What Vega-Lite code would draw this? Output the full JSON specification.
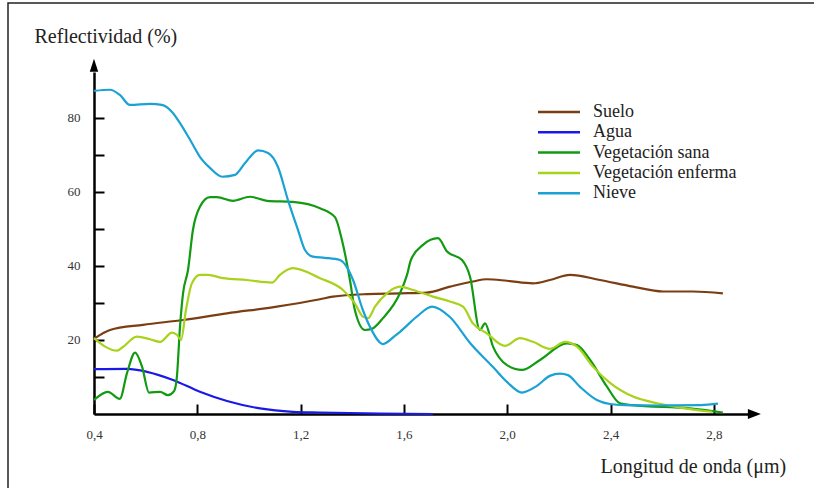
{
  "$schema": "https://vega.github.io/schema/vega-lite/v6.json",
  "width": 816,
  "height": 500,
  "autosize": {"type": "none"},
  "padding": {"left": 8, "top": 3, "right": -10, "bottom": -15},
  "background": "white",
  "config": {
    "font": "Liberation Serif",
    "view": {"stroke": "#222", "strokeWidth": 1.5}
  },
  "datasets": {
    "curves": [
      {"serie": "Suelo", "x": 0.40, "y": 20.3},
      {"serie": "Suelo", "x": 0.462, "y": 22.7},
      {"serie": "Suelo", "x": 0.59, "y": 24.1},
      {"serie": "Suelo", "x": 0.745, "y": 25.4},
      {"serie": "Suelo", "x": 0.915, "y": 27.2},
      {"serie": "Suelo", "x": 1.108, "y": 29.0},
      {"serie": "Suelo", "x": 1.275, "y": 31.0},
      {"serie": "Suelo", "x": 1.325, "y": 31.7},
      {"serie": "Suelo", "x": 1.457, "y": 32.4},
      {"serie": "Suelo", "x": 1.585, "y": 32.6},
      {"serie": "Suelo", "x": 1.689, "y": 32.8},
      {"serie": "Suelo", "x": 1.778, "y": 34.4},
      {"serie": "Suelo", "x": 1.867, "y": 35.8},
      {"serie": "Suelo", "x": 1.921, "y": 36.4},
      {"serie": "Suelo", "x": 1.999, "y": 36.0},
      {"serie": "Suelo", "x": 2.1, "y": 35.3},
      {"serie": "Suelo", "x": 2.165, "y": 36.2},
      {"serie": "Suelo", "x": 2.243, "y": 37.6},
      {"serie": "Suelo", "x": 2.359, "y": 36.2},
      {"serie": "Suelo", "x": 2.487, "y": 34.4},
      {"serie": "Suelo", "x": 2.603, "y": 33.1},
      {"serie": "Suelo", "x": 2.719, "y": 33.1},
      {"serie": "Suelo", "x": 2.835, "y": 32.6},

      {"serie": "Agua", "x": 0.40, "y": 12.1},
      {"serie": "Agua", "x": 0.528, "y": 12.2},
      {"serie": "Agua", "x": 0.605, "y": 11.4},
      {"serie": "Agua", "x": 0.706, "y": 9.2},
      {"serie": "Agua", "x": 0.81, "y": 6.0},
      {"serie": "Agua", "x": 0.915, "y": 3.5},
      {"serie": "Agua", "x": 1.043, "y": 1.5},
      {"serie": "Agua", "x": 1.17, "y": 0.6},
      {"serie": "Agua", "x": 1.275, "y": 0.4},
      {"serie": "Agua", "x": 1.507, "y": 0.1},
      {"serie": "Agua", "x": 1.712, "y": 0.0},

      {"serie": "Vegetación sana", "x": 0.40, "y": 3.8},
      {"serie": "Vegetación sana", "x": 0.454, "y": 6.0},
      {"serie": "Vegetación sana", "x": 0.50, "y": 4.1},
      {"serie": "Vegetación sana", "x": 0.528, "y": 11.1},
      {"serie": "Vegetación sana", "x": 0.559, "y": 16.6},
      {"serie": "Vegetación sana", "x": 0.586, "y": 12.8},
      {"serie": "Vegetación sana", "x": 0.613, "y": 5.8},
      {"serie": "Vegetación sana", "x": 0.656, "y": 6.0},
      {"serie": "Vegetación sana", "x": 0.686, "y": 5.1},
      {"serie": "Vegetación sana", "x": 0.71, "y": 6.2},
      {"serie": "Vegetación sana", "x": 0.721, "y": 10.1},
      {"serie": "Vegetación sana", "x": 0.733, "y": 23.6},
      {"serie": "Vegetación sana", "x": 0.745, "y": 32.7},
      {"serie": "Vegetación sana", "x": 0.764, "y": 38.9},
      {"serie": "Vegetación sana", "x": 0.783, "y": 49.7},
      {"serie": "Vegetación sana", "x": 0.81, "y": 56.0},
      {"serie": "Vegetación sana", "x": 0.849, "y": 58.6},
      {"serie": "Vegetación sana", "x": 0.876, "y": 58.6},
      {"serie": "Vegetación sana", "x": 0.938, "y": 57.6},
      {"serie": "Vegetación sana", "x": 1.004, "y": 58.7},
      {"serie": "Vegetación sana", "x": 1.07, "y": 57.6},
      {"serie": "Vegetación sana", "x": 1.17, "y": 57.3},
      {"serie": "Vegetación sana", "x": 1.275, "y": 55.6},
      {"serie": "Vegetación sana", "x": 1.333, "y": 53.2},
      {"serie": "Vegetación sana", "x": 1.36, "y": 47.0},
      {"serie": "Vegetación sana", "x": 1.391, "y": 36.2},
      {"serie": "Vegetación sana", "x": 1.41, "y": 28.1},
      {"serie": "Vegetación sana", "x": 1.449, "y": 22.7},
      {"serie": "Vegetación sana", "x": 1.476, "y": 23.0},
      {"serie": "Vegetación sana", "x": 1.519, "y": 25.9},
      {"serie": "Vegetación sana", "x": 1.585, "y": 32.7},
      {"serie": "Vegetación sana", "x": 1.612, "y": 37.6},
      {"serie": "Vegetación sana", "x": 1.627, "y": 41.6},
      {"serie": "Vegetación sana", "x": 1.674, "y": 45.7},
      {"serie": "Vegetación sana", "x": 1.732, "y": 47.5},
      {"serie": "Vegetación sana", "x": 1.767, "y": 43.9},
      {"serie": "Vegetación sana", "x": 1.825, "y": 41.6},
      {"serie": "Vegetación sana", "x": 1.856, "y": 37.1},
      {"serie": "Vegetación sana", "x": 1.894, "y": 22.7},
      {"serie": "Vegetación sana", "x": 1.914, "y": 24.5},
      {"serie": "Vegetación sana", "x": 1.945, "y": 18.2},
      {"serie": "Vegetación sana", "x": 1.999, "y": 13.2},
      {"serie": "Vegetación sana", "x": 2.057, "y": 11.9},
      {"serie": "Vegetación sana", "x": 2.127, "y": 14.6},
      {"serie": "Vegetación sana", "x": 2.231, "y": 19.1},
      {"serie": "Vegetación sana", "x": 2.27, "y": 18.6},
      {"serie": "Vegetación sana", "x": 2.321, "y": 14.6},
      {"serie": "Vegetación sana", "x": 2.386, "y": 7.4},
      {"serie": "Vegetación sana", "x": 2.436, "y": 2.9},
      {"serie": "Vegetación sana", "x": 2.483, "y": 2.4},
      {"serie": "Vegetación sana", "x": 2.707, "y": 1.5},
      {"serie": "Vegetación sana", "x": 2.835, "y": 0.4},

      {"serie": "Vegetación enferma", "x": 0.40, "y": 20.5},
      {"serie": "Vegetación enferma", "x": 0.443, "y": 18.2},
      {"serie": "Vegetación enferma", "x": 0.489, "y": 17.1},
      {"serie": "Vegetación enferma", "x": 0.512, "y": 18.1},
      {"serie": "Vegetación enferma", "x": 0.566, "y": 20.9},
      {"serie": "Vegetación enferma", "x": 0.617, "y": 20.2},
      {"serie": "Vegetación enferma", "x": 0.656, "y": 19.5},
      {"serie": "Vegetación enferma", "x": 0.702, "y": 22.0},
      {"serie": "Vegetación enferma", "x": 0.721, "y": 21.4},
      {"serie": "Vegetación enferma", "x": 0.737, "y": 20.0},
      {"serie": "Vegetación enferma", "x": 0.756, "y": 28.1},
      {"serie": "Vegetación enferma", "x": 0.779, "y": 35.3},
      {"serie": "Vegetación enferma", "x": 0.81, "y": 37.6},
      {"serie": "Vegetación enferma", "x": 0.841, "y": 37.6},
      {"serie": "Vegetación enferma", "x": 0.899, "y": 36.7},
      {"serie": "Vegetación enferma", "x": 0.992, "y": 36.2},
      {"serie": "Vegetación enferma", "x": 1.089, "y": 35.5},
      {"serie": "Vegetación enferma", "x": 1.12, "y": 37.6},
      {"serie": "Vegetación enferma", "x": 1.17, "y": 39.4},
      {"serie": "Vegetación enferma", "x": 1.275, "y": 36.7},
      {"serie": "Vegetación enferma", "x": 1.364, "y": 33.5},
      {"serie": "Vegetación enferma", "x": 1.41, "y": 29.9},
      {"serie": "Vegetación enferma", "x": 1.441, "y": 26.3},
      {"serie": "Vegetación enferma", "x": 1.461, "y": 25.9},
      {"serie": "Vegetación enferma", "x": 1.488, "y": 29.0},
      {"serie": "Vegetación enferma", "x": 1.534, "y": 32.6},
      {"serie": "Vegetación enferma", "x": 1.585, "y": 34.4},
      {"serie": "Vegetación enferma", "x": 1.635, "y": 33.5},
      {"serie": "Vegetación enferma", "x": 1.712, "y": 31.7},
      {"serie": "Vegetación enferma", "x": 1.778, "y": 30.4},
      {"serie": "Vegetación enferma", "x": 1.829, "y": 29.0},
      {"serie": "Vegetación enferma", "x": 1.867, "y": 24.5},
      {"serie": "Vegetación enferma", "x": 1.921, "y": 21.8},
      {"serie": "Vegetación enferma", "x": 1.991, "y": 18.4},
      {"serie": "Vegetación enferma", "x": 2.049, "y": 20.5},
      {"serie": "Vegetación enferma", "x": 2.1, "y": 19.5},
      {"serie": "Vegetación enferma", "x": 2.165, "y": 17.6},
      {"serie": "Vegetación enferma", "x": 2.224, "y": 19.5},
      {"serie": "Vegetación enferma", "x": 2.27, "y": 18.2},
      {"serie": "Vegetación enferma", "x": 2.332, "y": 12.8},
      {"serie": "Vegetación enferma", "x": 2.398, "y": 8.4},
      {"serie": "Vegetación enferma", "x": 2.487, "y": 4.7},
      {"serie": "Vegetación enferma", "x": 2.58, "y": 2.9},
      {"serie": "Vegetación enferma", "x": 2.681, "y": 1.6},
      {"serie": "Vegetación enferma", "x": 2.794, "y": 0.6},

      {"serie": "Nieve", "x": 0.40, "y": 87.3},
      {"serie": "Nieve", "x": 0.462, "y": 87.6},
      {"serie": "Nieve", "x": 0.50, "y": 86.2},
      {"serie": "Nieve", "x": 0.539, "y": 83.5},
      {"serie": "Nieve", "x": 0.617, "y": 83.8},
      {"serie": "Nieve", "x": 0.663, "y": 83.5},
      {"serie": "Nieve", "x": 0.702, "y": 81.6},
      {"serie": "Nieve", "x": 0.733, "y": 78.6},
      {"serie": "Nieve", "x": 0.772, "y": 74.1},
      {"serie": "Nieve", "x": 0.81, "y": 69.5},
      {"serie": "Nieve", "x": 0.849, "y": 66.5},
      {"serie": "Nieve", "x": 0.896, "y": 64.1},
      {"serie": "Nieve", "x": 0.946, "y": 64.6},
      {"serie": "Nieve", "x": 0.985, "y": 67.8},
      {"serie": "Nieve", "x": 1.035, "y": 71.2},
      {"serie": "Nieve", "x": 1.074, "y": 70.5},
      {"serie": "Nieve", "x": 1.112, "y": 66.8},
      {"serie": "Nieve", "x": 1.151, "y": 57.8},
      {"serie": "Nieve", "x": 1.19, "y": 49.7},
      {"serie": "Nieve", "x": 1.217, "y": 44.3},
      {"serie": "Nieve", "x": 1.248, "y": 42.5},
      {"serie": "Nieve", "x": 1.294, "y": 42.2},
      {"serie": "Nieve", "x": 1.352, "y": 41.6},
      {"serie": "Nieve", "x": 1.379, "y": 39.7},
      {"serie": "Nieve", "x": 1.403, "y": 36.2},
      {"serie": "Nieve", "x": 1.441, "y": 28.1},
      {"serie": "Nieve", "x": 1.469, "y": 23.5},
      {"serie": "Nieve", "x": 1.519, "y": 18.9},
      {"serie": "Nieve", "x": 1.565, "y": 21.1},
      {"serie": "Nieve", "x": 1.585, "y": 22.2},
      {"serie": "Nieve", "x": 1.65, "y": 26.3},
      {"serie": "Nieve", "x": 1.709, "y": 29.0},
      {"serie": "Nieve", "x": 1.778, "y": 26.2},
      {"serie": "Nieve", "x": 1.856, "y": 19.2},
      {"serie": "Nieve", "x": 1.945, "y": 12.7},
      {"serie": "Nieve", "x": 2.0, "y": 8.6},
      {"serie": "Nieve", "x": 2.057, "y": 5.8},
      {"serie": "Nieve", "x": 2.115, "y": 7.6},
      {"serie": "Nieve", "x": 2.165, "y": 10.3},
      {"serie": "Nieve", "x": 2.204, "y": 10.9},
      {"serie": "Nieve", "x": 2.235, "y": 10.5},
      {"serie": "Nieve", "x": 2.281, "y": 7.4},
      {"serie": "Nieve", "x": 2.347, "y": 3.8},
      {"serie": "Nieve", "x": 2.398, "y": 2.7},
      {"serie": "Nieve", "x": 2.456, "y": 2.4},
      {"serie": "Nieve", "x": 2.59, "y": 2.3},
      {"serie": "Nieve", "x": 2.75, "y": 2.4},
      {"serie": "Nieve", "x": 2.816, "y": 2.8}
    ]
  },
  "encoding": {
    "x": {
      "field": "x", "type": "quantitative",
      "scale": {"domain": [0.4, 2.94], "range": [86, 742], "nice": false, "zero": false},
      "axis": {
        "orient": "bottom", "offset": -89,
        "values": [0.4, 0.8, 1.2, 1.6, 2.0, 2.4, 2.8],
        "labelExpr": "replace(format(datum.value, '.1f'), '.', ',')",
        "grid": false,
        "domainColor": "black", "domainWidth": 2.5,
        "tickColor": "black", "tickWidth": 2, "tickSize": -10,
        "labelPadding": 34, "labelBaseline": "alphabetic",
        "labelFont": "Liberation Serif", "labelFontSize": 13, "labelColor": "#333", "labelFlush": false, "labelOverlap": false,
        "title": "Longitud de onda (μm)",
        "titleFont": "Liberation Serif", "titleFontSize": 20, "titleFontWeight": "normal", "titleColor": "#222",
        "titleAlign": "left", "titleBaseline": "alphabetic", "titleAnchor": null,
        "titleX": 592, "titleY": 58
      }
    },
    "y": {
      "field": "y", "type": "quantitative",
      "scale": {"domain": [0, 92.4], "range": [411, 69], "nice": false, "zero": false},
      "axis": {
        "orient": "left", "offset": -86,
        "values": [10, 20, 30, 40, 50, 60, 70, 80],
        "labelExpr": "datum.value % 20 === 0 ? datum.label : ''",
        "grid": false,
        "domainColor": "black", "domainWidth": 2.5,
        "tickColor": "black", "tickWidth": 2, "tickSize": -10,
        "labelPadding": 24,
        "labelFont": "Liberation Serif", "labelFontSize": 13, "labelColor": "#333", "labelOverlap": false,
        "title": "Reflectividad (%)",
        "titleFont": "Liberation Serif", "titleFontSize": 20, "titleFontWeight": "normal", "titleColor": "#222",
        "titleAngle": 0, "titleAlign": "left", "titleBaseline": "alphabetic", "titleAnchor": null,
        "titleX": -60, "titleY": 39
      }
    }
  },
  "layer": [
    {
      "data": {"name": "curves"},
      "mark": {"type": "line", "interpolate": "monotone", "strokeWidth": 2.2},
      "encoding": {
        "color": {
          "field": "serie", "type": "nominal",
          "scale": {
            "domain": ["Suelo", "Agua", "Vegetación sana", "Vegetación enferma", "Nieve"],
            "range": ["#7a3e12", "#1a1ae8", "#129a12", "#a8d21c", "#1ba2d4"]
          },
          "legend": {
            "orient": "none", "legendX": 542, "legendY": 100, "padding": 0,
            "title": null,
            "symbolType": "M-4.2,0L4.2,0", "symbolSize": 100, "symbolStrokeWidth": 2.5,
            "labelOffset": 25, "labelFont": "Liberation Serif", "labelFontSize": 18, "labelColor": "#222",
            "rowPadding": 2.3
          }
        },
        "detail": {"field": "serie"}
      }
    },
    {
      "data": {"values": [{"x": 2.957, "y": 0}]},
      "mark": {"type": "point", "shape": "M-1,-0.77L1,0L-1,0.77Z", "size": 169, "filled": true, "opacity": 1, "color": "black", "strokeWidth": 0}
    },
    {
      "data": {"values": [{"x": 0.4, "y": 94.2}]},
      "mark": {"type": "point", "shape": "M-0.65,1L0,-1L0.65,1Z", "size": 169, "filled": true, "opacity": 1, "color": "black", "strokeWidth": 0}
    }
  ]
}
